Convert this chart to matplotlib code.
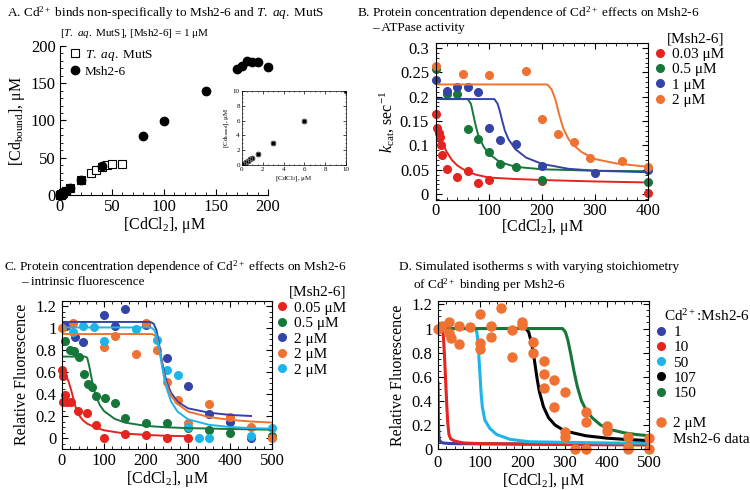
import matplotlib
matplotlib.use('Agg')
import matplotlib.pyplot as plt
from matplotlib.ticker import MultipleLocator
from matplotlib.lines import Line2D

plt.rcParams['font.family'] = ['Liberation Serif', 'DejaVu Serif']
plt.rcParams['mathtext.fontset'] = 'custom'
plt.rcParams['mathtext.rm'] = 'Liberation Serif'
plt.rcParams['mathtext.it'] = 'Liberation Serif:italic'
plt.rcParams['mathtext.bf'] = 'Liberation Serif:bold'

RED = '#e5231f'
GREEN = '#17773a'
BLUE = '#3444a6'
ORANGE = '#f07232'
CYAN = '#1db4ec'

# ---- panel A: Cd bound vs CdCl2
a_msh_x = [0.2, 0.4, 0.6, 0.8, 1, 1.5, 3, 6, 10, 20, 40, 80, 100, 140, 170, 175, 180, 185, 190, 200]
a_msh_y = [0.2, 0.4, 0.6, 0.8, 1, 1.5, 3, 6, 10, 19.5, 39, 79, 99.5, 139, 169, 173, 180, 179, 178.5, 171.5]
a_mut_x = [0.2, 0.4, 0.6, 0.8, 1, 1.5, 3, 6, 10, 20, 30, 35, 40, 45, 50, 60]
a_mut_y = [0.2, 0.4, 0.6, 0.8, 1, 1.5, 3, 6, 10, 20, 29, 34, 38, 40, 41, 42]

# ---- panel B: kcat data and fits
b_conc = ['0.03 μM', '0.5 μM', '1 μM', '2 μM']
b_red_x = [0, 2, 5, 7, 10, 12, 20, 40, 60, 80, 100, 200, 400]
b_red_y = [0.165, 0.135, 0.125, 0.118, 0.101, 0.08, 0.052, 0.036, 0.048, 0.022, 0.029, 0.027, 0.003]
b_grn_x = [0, 20, 40, 60, 80, 100, 120, 150, 200, 400]
b_grn_y = [0.257, 0.205, 0.205, 0.134, 0.113, 0.086, 0.061, 0.056, 0.028, 0.024]
b_blu_x = [0, 20, 40, 60, 80, 100, 120, 150, 200, 300, 400]
b_blu_y = [0.235, 0.211, 0.219, 0.220, 0.210, 0.135, 0.111, 0.103, 0.058, 0.043, 0.050]
b_org_x = [0, 50, 100, 170, 200, 230, 260, 290, 350, 400]
b_org_y = [0.262, 0.246, 0.244, 0.252, 0.155, 0.123, 0.106, 0.074, 0.069, 0.055]

b_red_fx = [0, 8, 11, 15, 20, 30, 40, 50, 60, 75, 100, 150, 200, 300, 400]
b_red_fy = [0.118, 0.116, 0.11, 0.098, 0.087, 0.07, 0.059, 0.052, 0.046, 0.04, 0.034, 0.031, 0.029, 0.026, 0.024]
b_grn_fx = [0, 60, 66, 70, 75, 80, 90, 100, 120, 150, 200, 300, 400]
b_grn_fy = [0.195, 0.195, 0.185, 0.165, 0.14, 0.12, 0.097, 0.083, 0.066, 0.056, 0.051, 0.048, 0.047]
b_blu_fx = [0, 110, 116, 120, 125, 130, 137, 150, 170, 200, 250, 300, 400]
b_blu_fy = [0.195, 0.195, 0.186, 0.172, 0.15, 0.13, 0.112, 0.092, 0.075, 0.062, 0.052, 0.048, 0.045]
b_org_fx = [0, 210, 218, 225, 232, 240, 250, 260, 275, 300, 340, 400]
b_org_fy = [0.225, 0.225, 0.215, 0.195, 0.165, 0.135, 0.113, 0.1, 0.086, 0.072, 0.063, 0.056]

# ---- panel C: intrinsic fluorescence
c_conc = ['0.05 μM', '0.5 μM', '2 μM', '2 μM', '2 μM']
c_red_x = [0, 3, 8, 3, 11, 21, 38, 60, 80, 100, 150, 200, 250, 300]
c_red_y = [0.62, 0.56, 0.39, 0.33, 0.33, 0.33, 0.25, 0.23, 0.12, 0.0, 0.04, 0.025, 0.0, 0.0]
c_grn_x = [8, 20, 29, 41, 52, 62, 71, 81, 102, 125, 151, 200, 250, 300, 350, 400, 500]
c_grn_y = [0.88, 0.80, 0.79, 0.74, 0.58, 0.49, 0.46, 0.38, 0.36, 0.32, 0.18, 0.14, 0.14, 0.095, 0.07, 0.045, 0.02]
c_blu_x = [10, 30, 50, 100, 125, 150, 200, 250, 300, 350, 400, 450]
c_blu_y = [1.02, 0.92, 0.87, 1.12, 1.02, 1.17, 1.03, 0.73, 0.47, 0.22, 0.15, 0.0]
c_org_x = [0, 25, 100, 125, 175, 200, 225, 250, 275, 300, 350, 400, 450, 500]
c_org_y = [1.0, 1.05, 0.83, 0.93, 0.76, 1.05, 0.8, 0.51, 0.35, 0.14, 0.31, 0.19, 0.1, 0.0]
c_cyn_x = [25, 50, 75, 100, 175, 225, 250, 275, 300, 325, 350, 450, 500]
c_cyn_y = [0.96, 1.02, 1.01, 0.88, 0.99, 0.89, 0.62, 0.57, 0.1, 0.0, 0.0, 0.02, 0.09]

c_red_fx = [0, 10, 15, 20, 25, 30, 35, 40, 50, 60, 80, 100, 150, 200, 250, 300]
c_red_fy = [0.57, 0.56, 0.52, 0.46, 0.39, 0.31, 0.25, 0.21, 0.16, 0.13, 0.095, 0.07, 0.04, 0.028, 0.02, 0.016]
c_grn_fx = [0, 55, 60, 65, 70, 75, 80, 90, 100, 125, 150, 200, 250, 300, 400, 500]
c_grn_fy = [0.74, 0.74, 0.73, 0.65, 0.55, 0.46, 0.39, 0.3, 0.245, 0.175, 0.14, 0.11, 0.097, 0.09, 0.082, 0.075]
c_blu_fx = [0, 210, 218, 225, 230, 235, 240, 245, 250, 260, 275, 300, 350, 400, 450]
c_blu_fy = [1.055, 1.055, 1.04, 0.98, 0.88, 0.76, 0.66, 0.57, 0.5, 0.41, 0.33, 0.27, 0.23, 0.21, 0.2]
c_org_fx = [0, 215, 222, 228, 234, 240, 246, 252, 260, 275, 300, 350, 400, 450, 500]
c_org_fy = [0.945, 0.945, 0.93, 0.87, 0.76, 0.63, 0.52, 0.45, 0.38, 0.31, 0.24, 0.19, 0.165, 0.15, 0.14]
c_cyn_fx = [0, 212, 220, 226, 232, 238, 244, 250, 260, 275, 300, 350, 400, 450, 500]
c_cyn_fy = [1.005, 1.005, 0.98, 0.92, 0.8, 0.66, 0.53, 0.44, 0.33, 0.24, 0.17, 0.12, 0.1, 0.09, 0.085]

# ---- panel D: simulated isotherms
d_ratio = ['1', '10', '50', '107', '150']
d_blu_x = [0, 1, 2, 3, 5, 8, 12, 25, 50, 100, 200, 300, 400, 500]
d_blu_y = [0.56, 0.23, 0.11, 0.08, 0.065, 0.055, 0.05, 0.046, 0.044, 0.043, 0.042, 0.041, 0.04, 0.04]
d_red_x = [0, 11, 13, 15, 17, 19, 21, 23, 26, 30, 40, 60, 100, 200, 300, 400, 500]
d_red_y = [1.0, 1.0, 0.92, 0.8, 0.65, 0.5, 0.35, 0.22, 0.12, 0.085, 0.065, 0.05, 0.045, 0.04, 0.037, 0.035, 0.033]
d_cyn_x = [0, 88, 92, 95, 98, 100, 102, 105, 111, 123, 139, 171, 218, 300, 400, 500]
d_cyn_y = [1.0, 1.0, 0.97, 0.88, 0.7, 0.59, 0.47, 0.35, 0.24, 0.17, 0.12, 0.08, 0.06, 0.055, 0.05, 0.048]
d_blk_x = [0, 208, 215, 220, 225, 230, 235, 240, 250, 262, 277, 300, 350, 400, 450, 500]
d_blk_y = [1.0, 1.0, 0.97, 0.9, 0.82, 0.7, 0.58, 0.48, 0.35, 0.26, 0.2, 0.15, 0.11, 0.09, 0.078, 0.07]
d_grn_x = [0, 295, 302, 308, 315, 322, 330, 340, 350, 365, 385, 410, 440, 470, 500]
d_grn_y = [1.0, 1.0, 0.97, 0.9, 0.78, 0.65, 0.52, 0.4, 0.33, 0.26, 0.2, 0.16, 0.135, 0.12, 0.11]
d_dat_x = c_blu_x + c_org_x + c_cyn_x
d_dat_y = c_blu_y + c_org_y + c_cyn_y

TICK = 12
LAB = 11.5
TIT = 9.5
LEG = 11


def px(x, y):
    return x / 750, 1 - y / 490


def box(ax, pad=4, xpad=4):
    ax.tick_params(direction='in', which='both', top=True, right=True, labelsize=TICK)
    ax.tick_params(axis='y', pad=pad)
    ax.tick_params(axis='x', pad=xpad)
    ax.tick_params(which='major', length=4)
    ax.tick_params(which='minor', length=2)


fig = plt.figure(figsize=(7.5, 4.9), dpi=100)

# ---------- A
axA = fig.add_axes([60 / 750, 1 - 195 / 490, 208 / 750, 149 / 490])
axA.plot(a_mut_x, a_mut_y, 's', ms=5.5, mfc='white', mec='black', mew=0.8, clip_on=False, label='$T.$ $aq.$ MutS')
axA.plot(a_msh_x, a_msh_y, 'o', ms=6, color='black', clip_on=False, label='Msh2-6')
axA.set_xlim(0, 200)
axA.set_ylim(0, 200)
axA.spines['top'].set_visible(False)
axA.spines['right'].set_visible(False)
axA.xaxis.set_major_locator(MultipleLocator(50))
axA.xaxis.set_minor_locator(MultipleLocator(10))
axA.yaxis.set_major_locator(MultipleLocator(50))
axA.yaxis.set_minor_locator(MultipleLocator(10))
axA.tick_params(direction='in', which='both', labelsize=TICK, pad=3)
axA.tick_params(which='major', length=4)
axA.tick_params(which='minor', length=2)
axA.set_xlabel('[CdCl$_2$], μM', fontsize=LAB, labelpad=0)
axA.set_ylabel('[Cd$_{\\mathrm{bound}}$], μM', fontsize=LAB, labelpad=3)
axA.legend(loc='upper left', bbox_to_anchor=px(70, 48), bbox_transform=fig.transFigure,
           frameon=False, fontsize=9.5, handlelength=0.7, handletextpad=0.4, borderpad=0,
           labelspacing=0.2, borderaxespad=0)

axI = fig.add_axes([242 / 750, 1 - 165 / 490, 104 / 750, 74 / 490])
axI.plot(a_msh_x, a_msh_y, 'o', ms=3, color='black')
axI.plot(a_mut_x, a_mut_y, 's', ms=2.6, mfc='none', mec='#777777', mew=0.5)
axI.set_xlim(0, 10)
axI.set_ylim(0, 10)
axI.xaxis.set_major_locator(MultipleLocator(2))
axI.xaxis.set_minor_locator(MultipleLocator(0.5))
axI.yaxis.set_major_locator(MultipleLocator(2))
axI.yaxis.set_minor_locator(MultipleLocator(0.5))
axI.tick_params(direction='in', which='both', top=True, right=True, labelsize=5, pad=1.5)
axI.tick_params(which='major', length=2, width=0.5)
axI.tick_params(which='minor', length=1, width=0.4)
for s in axI.spines.values():
    s.set_linewidth(0.5)
axI.set_xlabel('[CdCl$_2$], μM', fontsize=5, labelpad=1.5)
axI.set_ylabel('[Cd$_{\\mathrm{bound}}$], μM', fontsize=5, labelpad=1.5)

fig.text(*px(7, 13), 'A. Cd$^{2+}$ binds non-specifically to Msh2-6 and $T.$ $aq.$ MutS', fontsize=TIT, va='center')
fig.text(*px(60, 34), '[$T.$ $aq.$ MutS], [Msh2-6] = 1 μM', fontsize=8, va='center')

# ---------- B
axB = fig.add_axes([436 / 750, 1 - 200 / 490, 212 / 750, 157 / 490])
b_sets = [(b_red_x, b_red_y, b_red_fx, b_red_fy, RED),
          (b_grn_x, b_grn_y, b_grn_fx, b_grn_fy, GREEN),
          (b_blu_x, b_blu_y, b_blu_fx, b_blu_fy, BLUE),
          (b_org_x, b_org_y, b_org_fx, b_org_fy, ORANGE)]
hB = []
for (x, y, fx, fy, col), lab in zip(b_sets, b_conc):
    axB.plot(fx, fy, '-', color=col, lw=1.4)
    h, = axB.plot(x, y, 'o', ms=5.5, color=col, clip_on=False, label=lab)
    hB.append(h)
axB.set_xlim(0, 400)
axB.set_ylim(-0.012, 0.31)
axB.xaxis.set_major_locator(MultipleLocator(100))
axB.xaxis.set_minor_locator(MultipleLocator(20))
axB.set_yticks([0, 0.05, 0.1, 0.15, 0.2, 0.25, 0.3])
axB.set_yticklabels(['0', '0.05', '0.1', '0.15', '0.2', '0.25', '0.3'])
axB.yaxis.set_minor_locator(MultipleLocator(0.01))
box(axB, pad=5, xpad=2)
axB.set_xlabel('[CdCl$_2$], μM', fontsize=LAB, labelpad=-1)
axB.set_ylabel('$k_{\\mathrm{cat}}$, sec$^{\\mathrm{-1}}$', fontsize=LAB, labelpad=2)
leg = axB.legend(handles=hB, loc='upper left', bbox_to_anchor=px(654, 33), bbox_transform=fig.transFigure,
                 frameon=False, fontsize=LEG, title='[Msh2-6]', title_fontsize=LEG, handlelength=0.8,
                 handletextpad=0.4, borderpad=0, labelspacing=0.1, borderaxespad=0)
leg._legend_box.align = 'right'

fig.text(*px(357, 13), 'B. Protein concentration dependence of Cd$^{2+}$ effects on Msh2-6', fontsize=TIT, va='center')
fig.text(*px(372, 28), '– ATPase activity', fontsize=TIT, va='center')

# ---------- C
axC = fig.add_axes([62 / 750, 1 - 449 / 490, 210 / 750, 148.5 / 490])
c_sets = [(c_red_x, c_red_y, c_red_fx, c_red_fy, RED),
          (c_grn_x, c_grn_y, c_grn_fx, c_grn_fy, GREEN),
          (c_blu_x, c_blu_y, c_blu_fx, c_blu_fy, BLUE),
          (c_org_x, c_org_y, c_org_fx, c_org_fy, ORANGE),
          (c_cyn_x, c_cyn_y, c_cyn_fx, c_cyn_fy, CYAN)]
hC = []
for (x, y, fx, fy, col), lab in zip(c_sets, c_conc):
    h, = axC.plot(x, y, 'o', ms=5.5, color=col, clip_on=False, label=lab)
    hC.append(h)
for (x, y, fx, fy, col) in c_sets:
    axC.plot(fx, fy, '-', color=col, lw=1.4)
axC.set_xlim(0, 500)
axC.set_ylim(-0.1, 1.25)
axC.xaxis.set_major_locator(MultipleLocator(100))
axC.xaxis.set_minor_locator(MultipleLocator(20))
axC.set_yticks([0, 0.2, 0.4, 0.6, 0.8, 1, 1.2])
axC.set_yticklabels(['0', '0.2', '0.4', '0.6', '0.8', '1', '1.2'])
axC.yaxis.set_minor_locator(MultipleLocator(0.05))
box(axC, xpad=3)
axC.set_xlabel('[CdCl$_2$], μM', fontsize=LAB, labelpad=0)
axC.set_ylabel('Relative Fluorescence', fontsize=LAB, labelpad=4)
leg = axC.legend(handles=hC, loc='upper left', bbox_to_anchor=px(276, 286), bbox_transform=fig.transFigure,
                 frameon=False, fontsize=LEG, title='[Msh2-6]', title_fontsize=LEG, handlelength=0.8,
                 handletextpad=0.4, borderpad=0, labelspacing=0.12, borderaxespad=0)
leg._legend_box.align = 'right'

fig.text(*px(4, 267), 'C. Protein concentration dependence of Cd$^{2+}$ effects on Msh2-6', fontsize=TIT, va='center')
fig.text(*px(21, 282), '– intrinsic fluorescence', fontsize=TIT, va='center')

# ---------- D
axD = fig.add_axes([438 / 750, 1 - 449 / 490, 211 / 750, 147.6 / 490])
d_sets = [(d_blu_x, d_blu_y, BLUE), (d_red_x, d_red_y, RED), (d_cyn_x, d_cyn_y, CYAN),
          (d_blk_x, d_blk_y, 'black'), (d_grn_x, d_grn_y, GREEN)]
hD = []
for (x, y, col), lab in zip(d_sets, d_ratio):
    axD.plot(x, y, '-', color=col, lw=2.2, solid_capstyle='butt')
    hD.append(Line2D([], [], ls='none', marker='o', ms=5.5, color=col, label=lab))
axD.plot(d_dat_x, d_dat_y, 'o', ms=6.5, color=ORANGE, clip_on=False)
hD.append(Line2D([], [], ls='none', label=' '))
hD.append(Line2D([], [], ls='none', marker='o', ms=6.5, color=ORANGE, label='2 μM'))
hD.append(Line2D([], [], ls='none', label='Msh2-6 data'))
axD.set_xlim(0, 500)
axD.set_ylim(0, 1.225)
axD.xaxis.set_major_locator(MultipleLocator(100))
axD.xaxis.set_minor_locator(MultipleLocator(20))
axD.set_yticks([0, 0.2, 0.4, 0.6, 0.8, 1, 1.2])
axD.set_yticklabels(['0', '0.2', '0.4', '0.6', '0.8', '1', '1.2'])
axD.yaxis.set_minor_locator(MultipleLocator(0.05))
box(axD)
axD.set_xlabel('[CdCl$_2$], μM', fontsize=LAB, labelpad=0)
axD.set_ylabel('Relative Fluorescence', fontsize=LAB, labelpad=4)
leg = axD.legend(handles=hD, loc='upper left', bbox_to_anchor=px(655, 308), bbox_transform=fig.transFigure,
                 frameon=False, fontsize=LEG, title='Cd$^{2+}$:Msh2-6', title_fontsize=LEG, handlelength=0.8,
                 handletextpad=0.4, borderpad=0, labelspacing=0.1, borderaxespad=0)
leg._legend_box.align = 'right'

fig.text(*px(399, 267), 'D. Simulated isotherms s with varying stoichiometry', fontsize=TIT, va='center')
fig.text(*px(413, 285), 'of Cd$^{2+}$ binding per Msh2-6', fontsize=TIT, va='center')

fig.savefig('out.png', dpi=100)
